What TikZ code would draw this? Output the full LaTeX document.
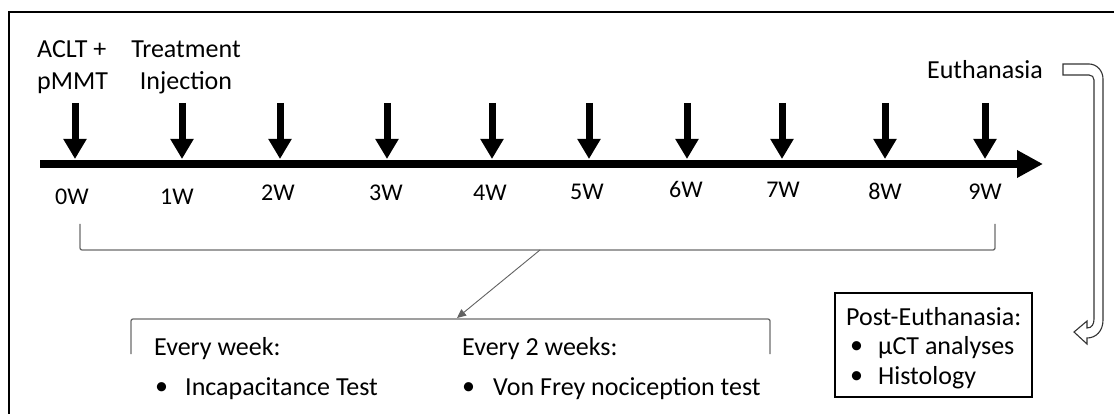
\documentclass[tikz,border=0pt]{standalone}
\usepackage{fontspec}
\setmainfont{Carlito}
\usetikzlibrary{arrows.meta}
\begin{document}
\begin{tikzpicture}[x=1pt,y=-1pt,
  txt/.style={inner sep=0pt,font=\fontsize{26}{32}\selectfont},
  big/.style={inner sep=0pt,font=\fontsize{26}{30}\selectfont,anchor=west},
  wk/.style={inner sep=0pt,font=\fontsize{24}{26}\selectfont},
  axis/.style={line width=8pt,-{Triangle[length=26pt,width=26pt]}},
  tick/.style={line width=7pt,-{Triangle[length=20pt,width=22pt]}},
  brk/.style={draw=black!58,line width=1.3pt,rounded corners=2pt},
  pointer/.style={draw=black!62,line width=0.9pt,-{Triangle[length=9pt,width=8pt]}},
  uturn/.style={draw=black!80,line width=1.1pt,fill=white}]
\useasboundingbox (0,0) rectangle (1114,414);

% outer frame
\draw[line width=1.6pt] (9,416) -- (9,12) -- (1116,12);

% timeline
\coordinate (ts) at (40,164);
\coordinate (te) at (1043,164);
\draw[axis] (ts) -- (te);

% weekly arrows
\foreach \x/\n in {75/0,182/1,280/2,387/3,492/4,589/5,687/6,782/7,885/8,985/9}{
  \coordinate (t\n) at (\x,103);
  \coordinate (b\n) at (\x,159);
  \draw[tick] (t\n) -- (b\n);
}

% week labels
\foreach \x/\y/\n in {72/197/0,177/197/1,278/193/2,386/193/3,490/193/4,587/192/5,686/189/6,783/190/7,885/191/8,985/192/9}{
  \node[wk] (w\n) at (\x,\y) {\n W};
}

% event labels
\node[txt,anchor=west,align=left] (surg) at (37,67) {ACLT +\\pMMT};
\node[txt,align=center] (inj) at (186,67) {Treatment\\Injection};
\node[txt] (euth) at (985,70) {Euthanasia};

% bracket over the whole period
\coordinate (bl) at (80,224);
\coordinate (br) at (995,224);
\coordinate (bm) at (540,250);
\draw[brk] (bl) -- (80,250) -- (995,250) -- (br);

% bracket for the repeated tests
\coordinate (cl) at (131,354);
\coordinate (cr) at (770,354);
\coordinate (cm) at (457,318);
\draw[brk] (cl) -- (131,319) -- (770,319) -- (cr);
\draw[pointer] (bm) -- (cm);

\node[big] (ew) at (154,349) {Every week:};
\node[big] (ewb) at (155,389) {\textbullet};
\node[big] (ewt) at (185,389) {Incapacitance Test};
\node[big] (e2) at (462,349) {Every 2 weeks:};
\node[big] (e2b) at (462,389) {\textbullet};
\node[big] (e2t) at (493,389) {Von Frey nociception test};

% post-euthanasia box
\draw[line width=1.2pt] (835,293) rectangle (1032,397);
\node[big] (pe) at (846,317) {Post-Euthanasia:};
\node[big] (peb1) at (850,348) {\textbullet};
\node[big] (pet1) at (878,348) {µCT analyses};
\node[big] (peb2) at (850,378) {\textbullet};
\node[big] (pet2) at (878,378) {Histology};

% U-turn arrow from euthanasia to the post-euthanasia analyses
\draw[uturn] (1063,64) -- (1089,64)
  .. controls (1097,64) and (1103,71) .. (1103,79)
  -- (1103,320)
  .. controls (1103,331) and (1096,338) .. (1087,338)
  -- (1087,344) -- (1074,332) -- (1087,321) -- (1087,328)
  .. controls (1092,328) and (1094,324) .. (1094,319)
  -- (1094,80)
  .. controls (1094,77) and (1092,75) .. (1089,75)
  -- (1063,75) -- cycle;
\end{tikzpicture}
\end{document}
